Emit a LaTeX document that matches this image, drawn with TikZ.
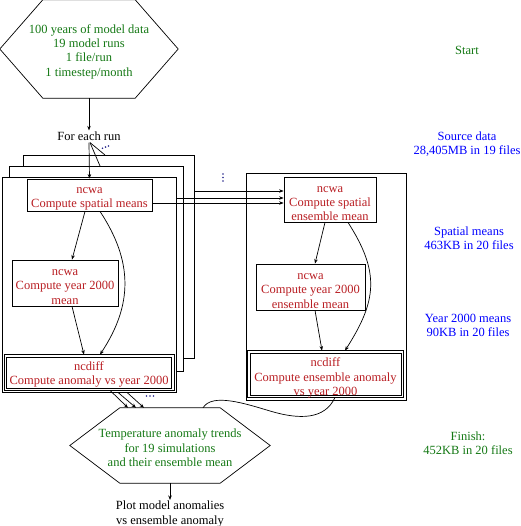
\documentclass[tikz,border=0pt]{standalone}
\usepackage{fontspec}
\setmainfont{Liberation Serif}
\usetikzlibrary{calc,arrows.meta}
\definecolor{gvgreen}{RGB}{20,120,20}
\definecolor{gvred}{RGB}{185,30,35}
\definecolor{gvblue}{RGB}{0,0,255}
\definecolor{gvdots}{RGB}{40,40,140}
\begin{document}
\begin{tikzpicture}[x=1pt,y=-1pt,
  every node/.style={font=\fontsize{12.5}{14.3}\selectfont, inner sep=0pt, align=center},
  box/.style={draw, line width=0.8pt, fill=white},
  proctext/.style={text=gvred, yshift=-4pt},
  hextext/.style={text=gvgreen, yshift=-2.5pt},
  layer/.style={draw, line width=0.8pt, fill=white},
  outerline/.style={draw, line width=0.8pt},
  arr/.style={-{Stealth[length=4.5pt,width=3.5pt]}, line width=0.7pt},
  edgeline/.style={line width=0.7pt},
  side/.style={text=gvblue, yshift=-0.5pt},
  sidegreen/.style={text=gvgreen, yshift=-0.5pt},
  dotmark/.style={fill=gvdots},
]
\useasboundingbox (0,0) rectangle (520,526);

% stacked per-run layers
\node[layer, minimum width=171, minimum height=203] (back) at (108.5,256.5) {};
\node[layer, minimum width=174, minimum height=205] (middle) at (96,268.5) {};
\node[layer, minimum width=174, minimum height=215] (front) at (89,284.5) {};
% ensemble cluster
\node[layer, minimum width=160, minimum height=227] (ens) at (326,286.5) {};

% source hexagon
\node[minimum width=178, minimum height=98] (src) at (89,49) {};
\draw[edgeline] (src.west) -- ($(src.north west)+(43,0)$) -- ($(src.north east)+(-43,0)$)
  -- (src.east) -- ($(src.south east)+(-43,0)$) -- ($(src.south west)+(43,0)$) -- cycle;
\node[hextext] (srctxt) at (src.center) {100 years of model data\\19 model runs\\1 file/run\\1 timestep/month};

\node[inner sep=1.5pt] (each) at (89,136.5) {For each run};

% per-run processing
\node[box, minimum width=125, minimum height=32] (ncwa1) at (89.5,195) {};
\node[proctext] (ncwa1txt) at (ncwa1.center) {ncwa\\Compute spatial means};
\node[box, minimum width=106, minimum height=46] (ncwa2) at (65,283) {};
\node[proctext] (ncwa2txt) at (ncwa2.center) {ncwa\\Compute year 2000\\mean};
\node[box, minimum width=165, minimum height=31] (ncdiff1) at (89,372.5) {};
\draw[outerline] ($(ncdiff1.north west)+(-2,-2)$) rectangle ($(ncdiff1.south east)+(2,2)$);
\node[proctext, yshift=2pt] (ncdiff1txt) at (ncdiff1.center) {ncdiff\\Compute anomaly vs year 2000};

% ensemble processing
\node[box, minimum width=92, minimum height=45] (ensA) at (330,199.5) {};
\node[proctext] (ensAtxt) at (ensA.center) {ncwa\\Compute spatial\\ensemble mean};
\node[box, minimum width=151, minimum height=42] (ensC) at (325.5,374) {};
\draw[outerline] ($(ensC.north west)+(-2,-2)$) rectangle ($(ensC.south east)+(2,2)$);
\node[proctext] (ensCtxt) at (ensC.center) {ncdiff\\Compute ensemble anomaly\\vs year 2000};
\node[box, minimum width=109, minimum height=46] (ensB) at (310.5,287) {};
\node[proctext] (ensBtxt) at (ensB.center) {ncwa\\Compute year 2000\\ensemble mean};

% result hexagon
\node[minimum width=200, minimum height=75] (res) at (170,445.5) {};
\draw[edgeline] (res.west) -- ($(res.north west)+(50,0)$) -- ($(res.north east)+(-50,0)$)
  -- (res.east) -- ($(res.south east)+(-50,0)$) -- ($(res.south west)+(50,0)$) -- cycle;
\node[hextext] (restxt) at (res.center) {Temperature anomaly trends\\for 19 simulations\\and their ensemble mean};

\node[inner sep=1pt] (plot) at (170,514) {Plot model anomalies\\vs ensemble anomaly};

% side labels
\node[sidegreen] (start) at (467,50) {Start};
\node[side] (srcdata) at (467,143.5) {Source data\\28,405MB in 19 files};
\node[side] (spat) at (469,238) {Spatial means\\463KB in 20 files};
\node[side] (yr) at (468,325) {Year 2000 means\\90KB in 20 files};
\node[sidegreen] (fin) at (468,443) {Finish:\\452KB in 20 files};

% continuation dots
\foreach \p in {(102.5,148.2),(105.5,147.1),(108.5,146)} \fill[dotmark] \p circle (0.9);
\foreach \p in {(223,174),(223,177.5),(223,181)} \fill[dotmark] \p circle (0.9);
\foreach \p in {(146.5,396),(150,396),(153.5,396)} \fill[dotmark] \p circle (0.9);

% connectors
\draw[arr] (src.south) -- (each.north);
\draw[arr] (each.south) -- (ncwa1.north);
\coordinate (c2) at (100,166);
\coordinate (c3) at (105,155);
\draw[edgeline] ($(each.south)+(1,0)$) -- (c2);
\draw[edgeline] ($(each.south)+(1,0)$) -- (c3);

\draw[arr] ($(ncwa1.south)+(-4.5,0)$) -- ($(ncwa2.north)+(7,0)$);
\draw[arr] ($(ncwa1.south)+(10.5,0)$) .. controls +(33,50) and +(33,-50) .. ($(ncdiff1.north)+(11,-2)$);
\draw[arr] ($(ncwa2.south)+(7,0)$) -- ($(ncdiff1.north)+(-5,-2)$);

\draw[arr] ($(back.east)+(0,-65.5)$) -- ($(ensA.west)+(0,-8.5)$);
\draw[arr] ($(front.east)+(0,-86.5)$) -- ($(ensA.west)+(0,-1.5)$);
\draw[arr] ($(ncwa1.east)+(0,8)$) -- ($(ensA.west)+(0,3.5)$);

\draw[arr] ($(ensA.south)+(-5,0)$) -- ($(ensB.north)+(4.5,0)$);
\draw[arr] ($(ensA.south)+(18,0)$) .. controls +(32,50) and +(32,-50) .. ($(ensC.north)+(19.5,-2)$);
\draw[arr] ($(ensB.south)+(4.5,0)$) -- ($(ensC.north)+(-3.5,-2)$);

\draw[arr] ($(ncdiff1.south)+(21,2)$) -- ($(res.north)+(-42,0)$);
\draw[arr] ($(front.south)+(29,0)$) -- ($(res.north)+(-34,0)$);
\draw[arr] ($(front.south)+(38,0)$) -- ($(res.north)+(-26,0)$);

\coordinate (mid) at (270,411);
\draw[edgeline] ($(ensC.south)+(9.5,2)$) .. controls +(-10,22) and +(30,9) .. (mid)
  .. controls +(-25,-7.5) and +(9,-15) .. ($(res.north)+(33,0)$);

\draw[arr] (res.south) -- (plot.north);
\end{tikzpicture}
\end{document}
